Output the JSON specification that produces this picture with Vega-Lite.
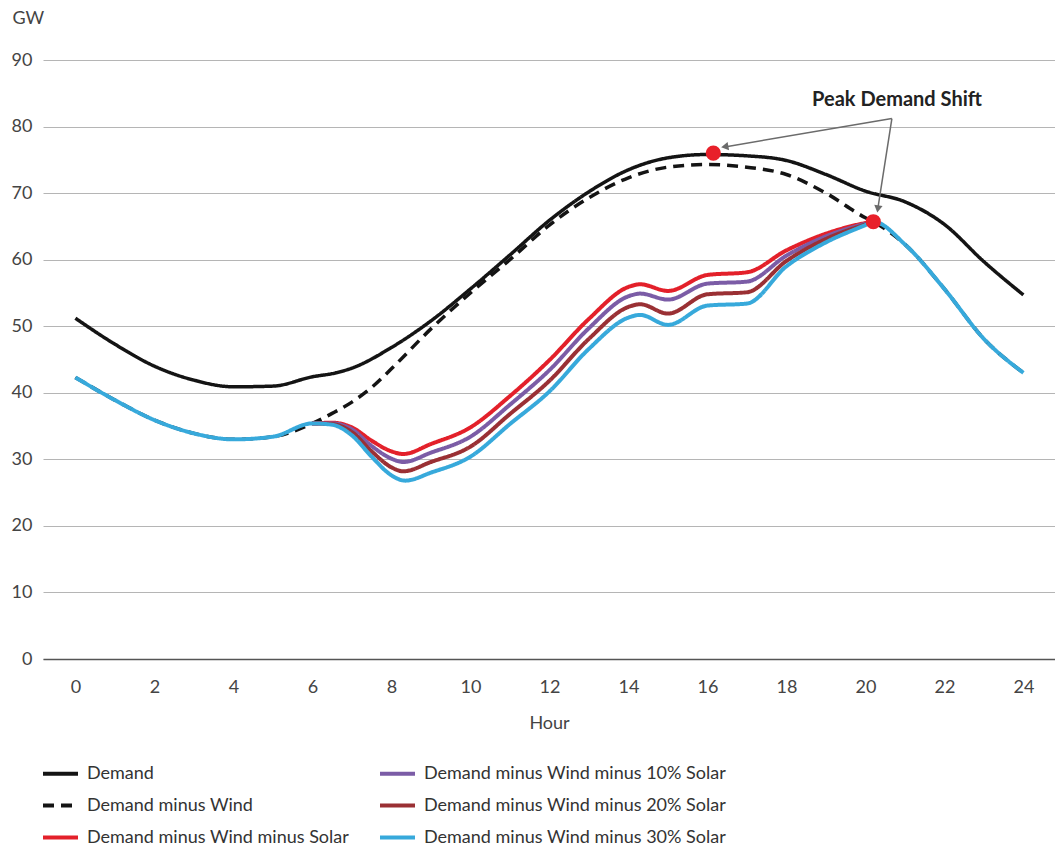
{
  "$schema": "https://vega.github.io/schema/vega-lite/v6.json",
  "width": 1012,
  "height": 599,
  "autosize": {"type": "none"},
  "padding": {"left": 43, "top": 60, "right": 0, "bottom": 188},
  "background": "white",
  "config": {"font": "Lato", "view": {"stroke": null}},
  "datasets": {
    "lines": [
      {"s": "D", "h": 0, "v": 51.2}, {"s": "D", "h": 1, "v": 47.3}, {"s": "D", "h": 2, "v": 44.0}, {"s": "D", "h": 3, "v": 41.9},
      {"s": "D", "h": 4, "v": 40.9}, {"s": "D", "h": 5, "v": 41.0}, {"s": "D", "h": 6, "v": 42.4}, {"s": "D", "h": 6.6, "v": 43.0},
      {"s": "D", "h": 7, "v": 43.7}, {"s": "D", "h": 8, "v": 46.8}, {"s": "D", "h": 9, "v": 50.8}, {"s": "D", "h": 10, "v": 55.6},
      {"s": "D", "h": 11, "v": 60.7}, {"s": "D", "h": 12, "v": 65.9}, {"s": "D", "h": 13, "v": 70.2}, {"s": "D", "h": 14, "v": 73.5},
      {"s": "D", "h": 15, "v": 75.3}, {"s": "D", "h": 16, "v": 75.8}, {"s": "D", "h": 17, "v": 75.6}, {"s": "D", "h": 18, "v": 74.9},
      {"s": "D", "h": 19, "v": 72.8}, {"s": "D", "h": 20, "v": 70.3}, {"s": "D", "h": 21, "v": 68.7}, {"s": "D", "h": 22, "v": 65.3},
      {"s": "D", "h": 23, "v": 59.7}, {"s": "D", "h": 24, "v": 54.7},

      {"s": "DW", "h": 0, "v": 42.3}, {"s": "DW", "h": 1, "v": 38.9}, {"s": "DW", "h": 2, "v": 35.9}, {"s": "DW", "h": 3, "v": 33.9},
      {"s": "DW", "h": 4, "v": 33.0}, {"s": "DW", "h": 5, "v": 33.4}, {"s": "DW", "h": 6, "v": 35.4}, {"s": "DW", "h": 6.5, "v": 36.9},
      {"s": "DW", "h": 7, "v": 38.6}, {"s": "DW", "h": 7.5, "v": 40.8}, {"s": "DW", "h": 8, "v": 43.6}, {"s": "DW", "h": 9, "v": 49.6},
      {"s": "DW", "h": 10, "v": 55.0}, {"s": "DW", "h": 11, "v": 60.0}, {"s": "DW", "h": 12, "v": 65.2}, {"s": "DW", "h": 13, "v": 69.3},
      {"s": "DW", "h": 14, "v": 72.3}, {"s": "DW", "h": 15, "v": 73.9}, {"s": "DW", "h": 16, "v": 74.3}, {"s": "DW", "h": 17, "v": 73.9},
      {"s": "DW", "h": 18, "v": 72.8}, {"s": "DW", "h": 19, "v": 70.0}, {"s": "DW", "h": 20, "v": 66.3}, {"s": "DW", "h": 20.2, "v": 65.7},
      {"s": "DW", "h": 21, "v": 62.3}, {"s": "DW", "h": 22, "v": 55.6}, {"s": "DW", "h": 23, "v": 48.1}, {"s": "DW", "h": 24, "v": 43.0},

      {"s": "S0", "h": 6, "v": 35.4}, {"s": "S0", "h": 6.5, "v": 35.5}, {"s": "S0", "h": 7, "v": 34.8}, {"s": "S0", "h": 7.5, "v": 32.8},
      {"s": "S0", "h": 8, "v": 31.2}, {"s": "S0", "h": 8.3, "v": 30.8}, {"s": "S0", "h": 9, "v": 32.3}, {"s": "S0", "h": 10, "v": 34.8},
      {"s": "S0", "h": 11, "v": 39.5}, {"s": "S0", "h": 12, "v": 44.9}, {"s": "S0", "h": 13, "v": 51.1}, {"s": "S0", "h": 14, "v": 55.9},
      {"s": "S0", "h": 14.3, "v": 56.3}, {"s": "S0", "h": 15, "v": 55.3}, {"s": "S0", "h": 16, "v": 57.7}, {"s": "S0", "h": 17, "v": 58.1},
      {"s": "S0", "h": 18, "v": 61.4}, {"s": "S0", "h": 19, "v": 63.9}, {"s": "S0", "h": 20, "v": 65.5}, {"s": "S0", "h": 20.2, "v": 65.7},

      {"s": "S10", "h": 6, "v": 35.4}, {"s": "S10", "h": 6.5, "v": 35.4}, {"s": "S10", "h": 7, "v": 34.5}, {"s": "S10", "h": 7.5, "v": 32.0},
      {"s": "S10", "h": 8, "v": 30.1}, {"s": "S10", "h": 8.3, "v": 29.6}, {"s": "S10", "h": 9, "v": 31.0}, {"s": "S10", "h": 10, "v": 33.4},
      {"s": "S10", "h": 11, "v": 38.2}, {"s": "S10", "h": 12, "v": 43.4}, {"s": "S10", "h": 13, "v": 49.7}, {"s": "S10", "h": 14, "v": 54.5},
      {"s": "S10", "h": 14.3, "v": 54.9}, {"s": "S10", "h": 15, "v": 54.0}, {"s": "S10", "h": 16, "v": 56.4}, {"s": "S10", "h": 17, "v": 56.7},
      {"s": "S10", "h": 18, "v": 60.6}, {"s": "S10", "h": 19, "v": 63.5}, {"s": "S10", "h": 20, "v": 65.4}, {"s": "S10", "h": 20.2, "v": 65.7},

      {"s": "S20", "h": 6, "v": 35.4}, {"s": "S20", "h": 6.5, "v": 35.3}, {"s": "S20", "h": 7, "v": 34.1}, {"s": "S20", "h": 7.5, "v": 31.2},
      {"s": "S20", "h": 8, "v": 28.8}, {"s": "S20", "h": 8.3, "v": 28.2}, {"s": "S20", "h": 9, "v": 29.6}, {"s": "S20", "h": 10, "v": 31.9},
      {"s": "S20", "h": 11, "v": 36.8}, {"s": "S20", "h": 12, "v": 41.8}, {"s": "S20", "h": 13, "v": 48.1}, {"s": "S20", "h": 14, "v": 52.9},
      {"s": "S20", "h": 14.3, "v": 53.3}, {"s": "S20", "h": 15, "v": 51.9}, {"s": "S20", "h": 16, "v": 54.8}, {"s": "S20", "h": 17, "v": 55.1},
      {"s": "S20", "h": 18, "v": 59.8}, {"s": "S20", "h": 19, "v": 63.1}, {"s": "S20", "h": 20, "v": 65.3}, {"s": "S20", "h": 20.2, "v": 65.7},

      {"s": "S30", "h": 0, "v": 42.3}, {"s": "S30", "h": 1, "v": 38.9}, {"s": "S30", "h": 2, "v": 35.9}, {"s": "S30", "h": 3, "v": 33.9},
      {"s": "S30", "h": 4, "v": 33.0}, {"s": "S30", "h": 5, "v": 33.4}, {"s": "S30", "h": 6, "v": 35.4}, {"s": "S30", "h": 6.5, "v": 35.2},
      {"s": "S30", "h": 7, "v": 33.6}, {"s": "S30", "h": 7.5, "v": 30.4}, {"s": "S30", "h": 8, "v": 27.6}, {"s": "S30", "h": 8.35, "v": 26.8},
      {"s": "S30", "h": 9, "v": 28.0}, {"s": "S30", "h": 10, "v": 30.4}, {"s": "S30", "h": 11, "v": 35.3}, {"s": "S30", "h": 12, "v": 40.2},
      {"s": "S30", "h": 13, "v": 46.6}, {"s": "S30", "h": 14, "v": 51.3}, {"s": "S30", "h": 14.3, "v": 51.7}, {"s": "S30", "h": 15, "v": 50.2},
      {"s": "S30", "h": 16, "v": 53.1}, {"s": "S30", "h": 17, "v": 53.4}, {"s": "S30", "h": 18, "v": 59.0}, {"s": "S30", "h": 19, "v": 62.6},
      {"s": "S30", "h": 20, "v": 65.2}, {"s": "S30", "h": 20.2, "v": 65.7}, {"s": "S30", "h": 21, "v": 62.3}, {"s": "S30", "h": 22, "v": 55.6},
      {"s": "S30", "h": 23, "v": 48.1}, {"s": "S30", "h": 24, "v": 43.0}
    ],
    "peaks": [
      {"h": 16.15, "v": 76.0},
      {"h": 20.2, "v": 65.7}
    ],
    "arrows": [
      {"a": "left", "h": 20.67, "v": 81.2, "h2": 16.4, "v2": 76.9},
      {"a": "down", "h": 20.67, "v": 81.2, "h2": 20.31, "v2": 67.5}
    ],
    "heads": [
      {"a": "left", "h": 16.47, "v": 77.0},
      {"a": "down", "h": 20.32, "v": 67.8}
    ],
    "label": [
      {"h": 20.8, "v": 84.0, "t": "Peak Demand Shift"}
    ]
  },
  "layer": [
    {
      "data": {"name": "lines"},
      "encoding": {
        "x": {
          "field": "h", "type": "quantitative",
          "scale": {"domain": [-0.82, 24.8], "nice": false, "zero": false},
          "axis": {
            "title": "Hour", "values": [0, 2, 4, 6, 8, 10, 12, 14, 16, 18, 20, 22, 24],
            "grid": false, "ticks": false, "domainColor": "#555555", "domainWidth": 1.5,
            "labelFontSize": 18, "labelColor": "#444444", "labelPadding": 19,
            "titleFontSize": 18, "titleFontWeight": "normal", "titleColor": "#444444", "titlePadding": 18
          }
        },
        "y": {
          "field": "v", "type": "quantitative",
          "scale": {"domain": [0, 90], "nice": false},
          "axis": {
            "title": "GW", "titleAngle": 0, "titleAlign": "left", "titleBaseline": "middle",
            "titleX": -31, "titleY": -42, "titleFontSize": 18, "titleFontWeight": "normal", "titleColor": "#444444",
            "values": [0, 10, 20, 30, 40, 50, 60, 70, 80, 90],
            "domain": false, "ticks": false, "gridColor": "#b5b5b5", "gridWidth": 1,
            "labelFontSize": 18, "labelColor": "#444444", "labelPadding": 11
          }
        },
        "color": {
          "field": "s", "type": "nominal",
          "scale": {
            "domain": ["D", "DW", "S0", "S10", "S20", "S30"],
            "range": ["#141414", "#141414", "#e3202a", "#7b5ca6", "#9a3034", "#37a9db"]
          },
          "legend": {
            "orient": "none", "legendX": -2, "legendY": 694, "columns": 2, "title": null,
            "symbolType": "stroke", "symbolSize": 1225, "symbolStrokeWidth": 4,
            "labelFontSize": 18, "labelColor": "#333333", "labelOffset": 7, "labelLimit": 400,
            "rowPadding": 3, "columnPadding": 22,
            "labelExpr": "datum.label == 'D' ? 'Demand' : datum.label == 'DW' ? 'Demand minus Wind' : datum.label == 'S0' ? 'Demand minus Wind minus Solar' : datum.label == 'S10' ? 'Demand minus Wind minus 10% Solar' : datum.label == 'S20' ? 'Demand minus Wind minus 20% Solar' : 'Demand minus Wind minus 30% Solar'"
          }
        },
        "strokeDash": {
          "field": "s", "type": "nominal",
          "scale": {
            "domain": ["D", "DW", "S0", "S10", "S20", "S30"],
            "range": [[1, 0], [11, 7], [1, 0], [1, 0], [1, 0], [1, 0]]
          },
          "legend": {
            "orient": "none", "legendX": -2, "legendY": 694, "columns": 2, "title": null,
            "symbolType": "stroke", "symbolSize": 1225, "symbolStrokeWidth": 4,
            "labelFontSize": 18, "labelColor": "#333333", "labelOffset": 7, "labelLimit": 400,
            "rowPadding": 3, "columnPadding": 22,
            "labelExpr": "datum.label == 'D' ? 'Demand' : datum.label == 'DW' ? 'Demand minus Wind' : datum.label == 'S0' ? 'Demand minus Wind minus Solar' : datum.label == 'S10' ? 'Demand minus Wind minus 10% Solar' : datum.label == 'S20' ? 'Demand minus Wind minus 20% Solar' : 'Demand minus Wind minus 30% Solar'"
          }
        }
      },
      "layer": [
        {"transform": [{"filter": "datum.s == 'D'"}], "mark": {"type": "line", "interpolate": "monotone", "strokeWidth": 3.5}},
        {"transform": [{"filter": "datum.s == 'DW'"}], "mark": {"type": "line", "interpolate": "monotone", "strokeWidth": 3.5}},
        {"transform": [{"filter": "datum.s == 'S0'"}], "mark": {"type": "line", "interpolate": "monotone", "strokeWidth": 4}},
        {"transform": [{"filter": "datum.s == 'S10'"}], "mark": {"type": "line", "interpolate": "monotone", "strokeWidth": 4}},
        {"transform": [{"filter": "datum.s == 'S20'"}], "mark": {"type": "line", "interpolate": "monotone", "strokeWidth": 4}},
        {"transform": [{"filter": "datum.s == 'S30'"}], "mark": {"type": "line", "interpolate": "monotone", "strokeWidth": 4}}
      ]
    },
    {
      "data": {"name": "arrows"},
      "mark": {"type": "rule", "color": "#6b6b6b", "strokeWidth": 1.5},
      "encoding": {
        "x": {"field": "h", "type": "quantitative"},
        "y": {"field": "v", "type": "quantitative"},
        "x2": {"field": "h2"},
        "y2": {"field": "v2"}
      }
    },
    {
      "data": {"name": "heads"},
      "transform": [{"filter": "datum.a == 'left'"}],
      "mark": {"type": "point", "shape": "triangle", "filled": true, "color": "#6b6b6b", "size": 70, "angle": 260, "opacity": 1},
      "encoding": {
        "x": {"field": "h", "type": "quantitative"},
        "y": {"field": "v", "type": "quantitative"}
      }
    },
    {
      "data": {"name": "heads"},
      "transform": [{"filter": "datum.a == 'down'"}],
      "mark": {"type": "point", "shape": "triangle", "filled": true, "color": "#6b6b6b", "size": 70, "angle": 189, "opacity": 1},
      "encoding": {
        "x": {"field": "h", "type": "quantitative"},
        "y": {"field": "v", "type": "quantitative"}
      }
    },
    {
      "data": {"name": "peaks"},
      "mark": {"type": "point", "shape": "circle", "filled": true, "color": "#e8202a", "size": 230, "opacity": 1},
      "encoding": {
        "x": {"field": "h", "type": "quantitative"},
        "y": {"field": "v", "type": "quantitative"}
      }
    },
    {
      "data": {"name": "label"},
      "mark": {"type": "text", "fontSize": 20, "fontWeight": "bold", "color": "#222222", "align": "center", "baseline": "middle"},
      "encoding": {
        "x": {"field": "h", "type": "quantitative"},
        "y": {"field": "v", "type": "quantitative"},
        "text": {"field": "t"}
      }
    }
  ]
}
